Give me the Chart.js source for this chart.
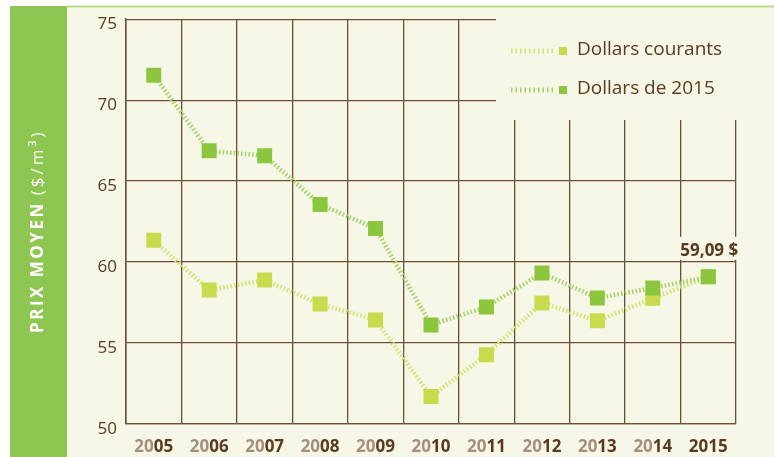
<!DOCTYPE html>
<html lang="fr">
<head>
<meta charset="utf-8">
<script src="https://cdn.jsdelivr.net/npm/chart.js@4/dist/chart.umd.min.js"></script>
<style>
  html, body { margin: 0; padding: 0; background: #fff; }
  #chart { display: block; }
</style>
</head>
<body>
<canvas id="chart" width="774" height="457"></canvas>
<script>
const YEARS = ['2005', '2006', '2007', '2008', '2009', '2010', '2011', '2012', '2013', '2014', '2015'];
const COURANTS = [61.35, 58.27, 58.89, 57.41, 56.43, 51.70, 54.28, 57.48, 56.37, 57.76, 59.09];
const DOLLARS_2015 = [71.54, 66.87, 66.57, 63.56, 62.08, 56.12, 57.23, 59.32, 57.78, 58.40, 59.09];
const Y_TICKS = [50, 55, 60, 65, 70, 75];
const SERIES_NAMES = ['Dollars courants', 'Dollars de 2015'];
const LAST_LABEL = '59,09 $';

const CREAM = '#F6F7E7';
const BROWN = '#5B3A1E';
const TAN = '#A58F7B';
const GRID = '#6E4F31';
const LIGHT = '#C9DB4C';
const DARK = '#8CC63F';
const LIGHT_LINE = '#D2E170';
const DARK_LINE = '#A2D266';
const FONT = '"Open Sans", "Noto Sans", sans-serif';

// backgrounds, green band, rotated axis title
const decoPlugin = {
  id: 'deco',
  beforeDraw(chart) {
    const ctx = chart.ctx;
    ctx.save();
    ctx.fillStyle = '#fff';
    ctx.fillRect(0, 0, 774, 457);
    ctx.fillStyle = CREAM;
    ctx.fillRect(67, 7, 707, 450);
    ctx.fillStyle = '#B7DA8C';
    ctx.fillRect(67, 5.5, 707, 2);
    ctx.fillStyle = '#8DC650';
    ctx.fillRect(10, 6, 57, 451);

    ctx.translate(43, 333);
    ctx.rotate(-Math.PI / 2);
    ctx.fillStyle = '#fff';
    ctx.textAlign = 'left';
    ctx.textBaseline = 'alphabetic';
    ctx.font = 'bold 17px ' + FONT;
    ctx.letterSpacing = '2.5px';
    ctx.fillText('PRIX MOYEN', 0, 0);
    const w = ctx.measureText('PRIX MOYEN').width;
    ctx.font = '17px ' + FONT;
    ctx.letterSpacing = '3px';
    ctx.fillText('($/m³)', w + 6, 0);
    ctx.restore();
  },
  beforeDatasetsDraw(chart) {
    const ctx = chart.ctx;
    const xs = chart.scales.x;
    const ys = chart.scales.y;
    ctx.save();

    // legend box hides the grid in the top right corner
    ctx.fillStyle = CREAM;
    ctx.fillRect(496, 9, 278, 111);
    const rows = [
      { name: SERIES_NAMES[0], mark: LIGHT, line: LIGHT_LINE, y: 51, base: 55 },
      { name: SERIES_NAMES[1], mark: DARK, line: DARK_LINE, y: 90, base: 94 },
    ];
    rows.forEach((r) => {
      ctx.strokeStyle = r.line;
      ctx.lineWidth = 5;
      ctx.setLineDash([1.5, 3]);
      ctx.beginPath();
      ctx.moveTo(511, r.y);
      ctx.lineTo(555, r.y);
      ctx.stroke();
      ctx.setLineDash([]);
      ctx.fillStyle = r.mark;
      ctx.fillRect(559, r.y - 4, 8, 8);
      ctx.fillStyle = BROWN;
      ctx.font = '19px ' + FONT;
      ctx.textAlign = 'left';
      ctx.textBaseline = 'alphabetic';
      ctx.fillText(r.name, 577, r.base);
    });

    // value label of the last point
    const last = YEARS.length - 1;
    const px = xs.getPixelForValue(last);
    const py = ys.getPixelForValue(DOLLARS_2015[last]);
    ctx.font = 'bold 17px ' + FONT;
    const lw = ctx.measureText(LAST_LABEL).width;
    ctx.fillStyle = CREAM;
    ctx.fillRect(px - lw / 2 - 3, py - 40, lw + 6, 23);
    ctx.fillStyle = BROWN;
    ctx.textAlign = 'center';
    ctx.textBaseline = 'alphabetic';
    ctx.fillText(LAST_LABEL, px + 1, py - 21);

    // year labels: first two digits in tan, last two dark
    ctx.font = 'bold 17px ' + FONT;
    ctx.textAlign = 'left';
    YEARS.forEach((yr, i) => {
      const cx = xs.getPixelForValue(i);
      const head = i === last ? '' : yr.slice(0, 2);
      const tail = i === last ? yr : yr.slice(2);
      const wh = ctx.measureText(head).width;
      const wt = ctx.measureText(tail).width;
      const x0 = cx - (wh + wt) / 2;
      ctx.fillStyle = TAN;
      ctx.fillText(head, x0, 452);
      ctx.fillStyle = BROWN;
      ctx.fillText(tail, x0 + wh, 452);
    });
    ctx.restore();
  },
};

new Chart(document.getElementById('chart'), {
  type: 'line',
  data: {
    labels: YEARS,
    datasets: [
      {
        label: SERIES_NAMES[1],
        data: DOLLARS_2015,
        borderColor: DARK_LINE,
        borderWidth: 4.5,
        borderDash: [1.5, 2.2],
        pointStyle: 'rect',
        pointRadius: 10.6,
        pointHoverRadius: 10.6,
        pointBorderWidth: 0,
        pointBackgroundColor: DARK,
        tension: 0,
        order: 0,
      },
      {
        label: SERIES_NAMES[0],
        data: COURANTS,
        borderColor: LIGHT_LINE,
        borderWidth: 4.5,
        borderDash: [1.5, 2.2],
        pointStyle: 'rect',
        pointRadius: 10.6,
        pointHoverRadius: 10.6,
        pointBorderWidth: 0,
        pointBackgroundColor: LIGHT,
        tension: 0,
        order: 1,
      },
    ],
  },
  options: {
    responsive: false,
    animation: false,
    events: [],
    layout: { padding: { top: 17, right: 38, left: 0, bottom: 0 } },
    plugins: { legend: { display: false }, tooltip: { enabled: false } },
    scales: {
      x: {
        offset: true,
        grid: { offset: true, color: GRID, lineWidth: 1.3, drawTicks: false },
        border: { color: GRID, width: 1.3 },
        ticks: { display: false },
        afterFit: (s) => { s.height = 33; },
      },
      y: {
        min: 50,
        max: 75,
        afterBuildTicks: (s) => { s.ticks = Y_TICKS.map((v) => ({ value: v })); },
        grid: { color: GRID, lineWidth: 1.3, drawTicks: false },
        border: { color: GRID, width: 1.5 },
        ticks: { color: BROWN, font: { family: FONT, size: 17 }, padding: 9, labelOffset: 5 },
        afterFit: (s) => { s.width = 126; },
      },
    },
  },
  plugins: [decoPlugin],
});
</script>
</body>
</html>
